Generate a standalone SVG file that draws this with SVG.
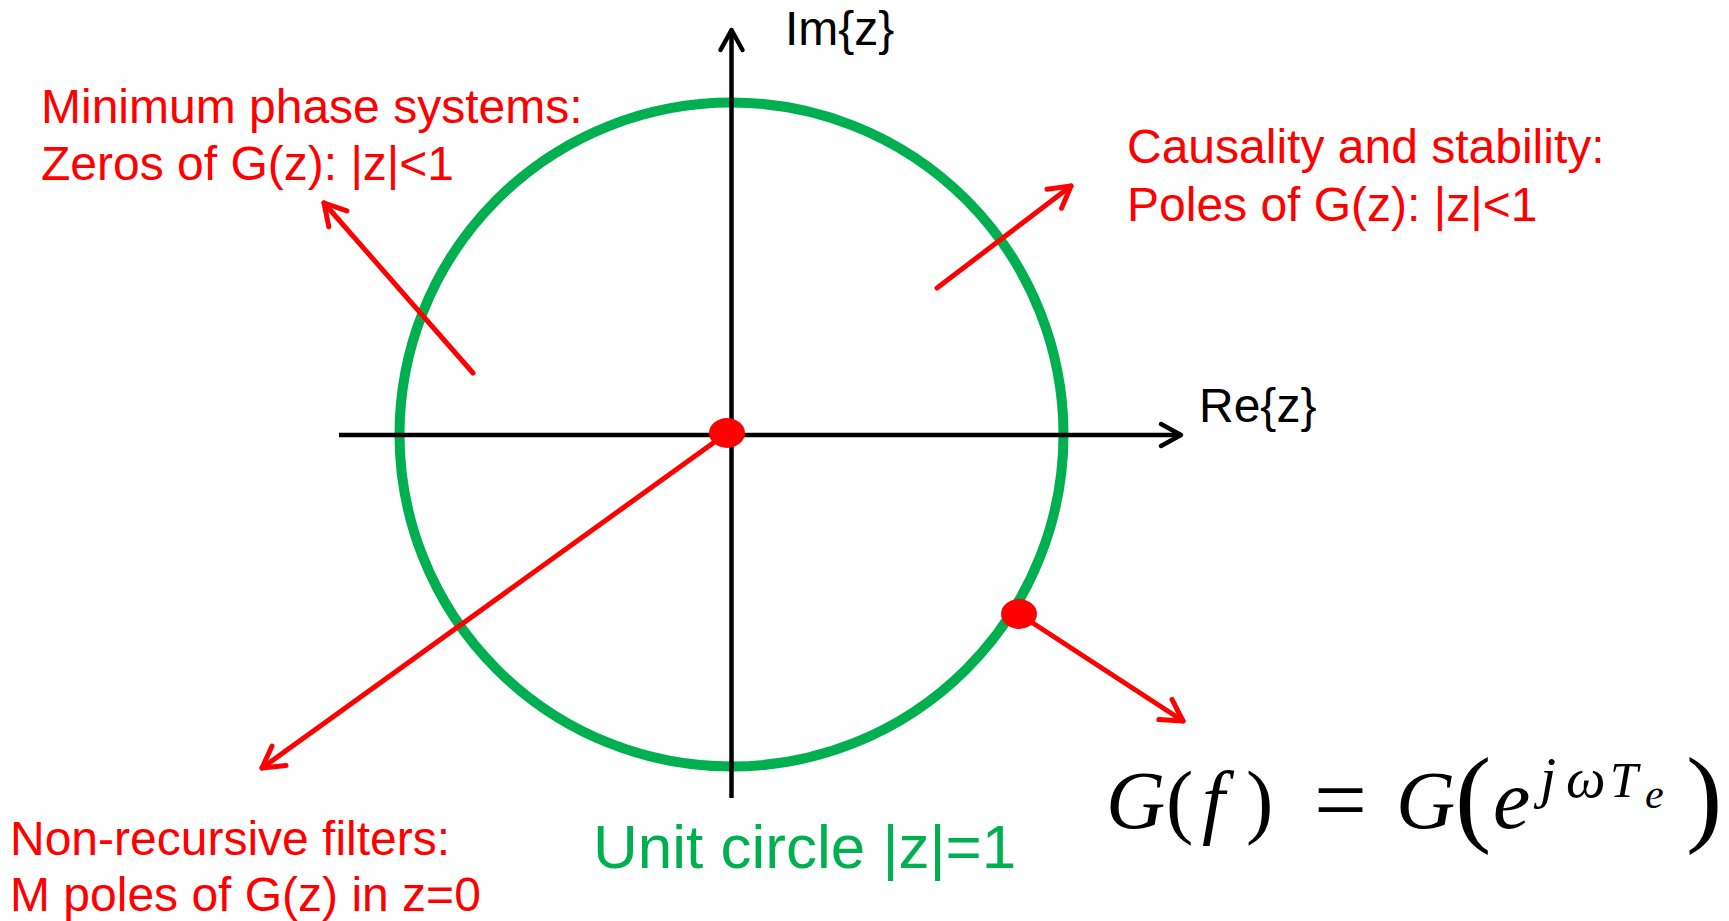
<svg xmlns="http://www.w3.org/2000/svg" width="1729" height="921" viewBox="0 0 1729 921">
  <style>
    .lbl { font-family: "Liberation Sans", Arial, sans-serif; font-size: 48px; }
    .red { fill: #FF0000; }
    .blk { fill: #000000; }
    .grn { fill: #00B050; }
    .axis { stroke: #000000; stroke-width: 4.5; fill: none; }
    .arrow { stroke: #FF0000; stroke-width: 5; fill: none; stroke-linecap: round; }
    .math { font-family: "Liberation Serif", "Times New Roman", serif; fill: #000000; }
    .it { font-style: italic; }
  </style>
  <defs>
    <marker id="head-black" markerUnits="userSpaceOnUse" markerWidth="40" markerHeight="40" refX="0" refY="0" orient="auto" overflow="visible">
      <path d="M -20 -11 L 0 0 L -20 11" fill="none" stroke="#000000" stroke-width="4.5" stroke-linecap="round" stroke-linejoin="round"/>
    </marker>
    <marker id="head-red" markerUnits="userSpaceOnUse" markerWidth="40" markerHeight="40" refX="0" refY="0" orient="auto" overflow="visible">
      <path d="M -21 -12 L 0 0 L -21 12" fill="none" stroke="#FF0000" stroke-width="5" stroke-linecap="round" stroke-linejoin="round"/>
    </marker>
  </defs>
  <rect width="1729" height="921" fill="#FFFFFF"/>

  <g id="unit-circle">
    <circle cx="731.5" cy="434.5" r="332" fill="none" stroke="#00B050" stroke-width="10"/>
  </g>

  <g id="axes">
    <line class="axis" x1="731.5" y1="798" x2="731.5" y2="30" marker-end="url(#head-black)"/>
    <line class="axis" x1="339" y1="435" x2="1181" y2="435" marker-end="url(#head-black)"/>
  </g>

  <g id="connectors">
    <line class="arrow" x1="473" y1="373" x2="324" y2="203" marker-end="url(#head-red)"/>
    <line class="arrow" x1="937" y1="288" x2="1071" y2="186" marker-end="url(#head-red)"/>
    <line class="arrow" x1="1019" y1="614" x2="1183" y2="721" marker-end="url(#head-red)"/>
    <line class="arrow" x1="727" y1="433" x2="262" y2="768" marker-end="url(#head-red)"/>
  </g>

  <g id="point-origin">
    <ellipse cx="727" cy="433" rx="18" ry="15" fill="#FF0000"/>
  </g>
  <g id="point-unit">
    <ellipse cx="1019" cy="614" rx="18" ry="15" fill="#FF0000"/>
  </g>

  <g id="label-im">
    <text class="lbl blk" x="785" y="45">Im{z}</text>
  </g>
  <g id="label-re">
    <text class="lbl blk" x="1199" y="422">Re{z}</text>
  </g>
  <g id="label-minphase">
    <text class="lbl red" x="41" y="123">Minimum phase systems:</text>
    <text class="lbl red" x="41" y="180">Zeros of G(z): |z|&lt;1</text>
  </g>
  <g id="label-causality">
    <text class="lbl red" x="1127" y="163">Causality and stability:</text>
    <text class="lbl red" x="1127" y="221">Poles of G(z): |z|&lt;1</text>
  </g>
  <g id="label-nonrecursive">
    <text class="lbl red" x="10" y="855">Non-recursive filters:</text>
    <text class="lbl red" x="10" y="911">M poles of G(z) in z=0</text>
  </g>
  <g id="label-unitcircle">
    <text class="lbl grn" x="593" y="868" style="font-size:62px">Unit circle |z|=1</text>
  </g>

  <g id="formula">
    <text class="math it" x="1106" y="828" font-size="82">G</text>
    <text class="math" x="1166" y="828" font-size="82">(</text>
    <text class="math it" x="1202" y="828" font-size="82">f</text>
    <text class="math" x="1246" y="828" font-size="82">)</text>
    <text class="math" x="1314" y="831" font-size="94">=</text>
    <text class="math it" x="1396" y="828" font-size="82">G</text>
    <text class="math" x="1455" y="832" font-size="109">(</text>
    <text class="math it" x="1493" y="828" font-size="84">e</text>
    <text class="math it" x="1540" y="797" font-size="58">j</text>
    <text class="math it" x="1566" y="797" font-size="56">ω</text>
    <text class="math it" x="1610" y="797" font-size="50">T</text>
    <text class="math it" x="1645" y="808" font-size="42">e</text>
    <text class="math" x="1686" y="832" font-size="109">)</text>
  </g>
</svg>
